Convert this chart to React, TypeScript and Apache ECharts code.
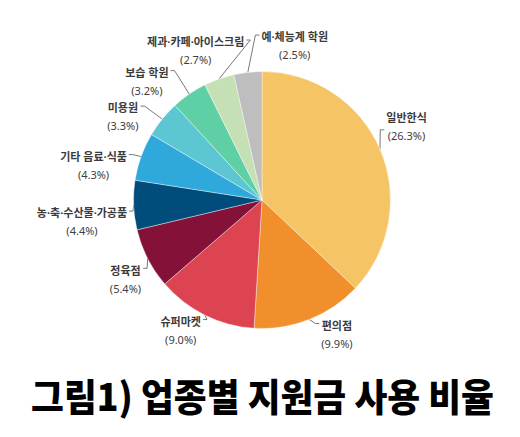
import React, { useEffect, useRef } from 'react';
import * as echarts from 'echarts';

// ---- data ----
const categories = [
  '일반한식',
  '편의점',
  '슈퍼마켓',
  '정육점',
  '농·축·수산물·가공품',
  '기타 음료·식품',
  '미용원',
  '보습 학원',
  '제과·카페·아이스크림',
  '예·체능계 학원',
];
const shares = [26.3, 9.9, 9.0, 5.4, 4.4, 4.3, 3.3, 3.2, 2.7, 2.5];
const titleText = '그림1) 업종별 지원금 사용 비율';

// ---- styles / layout ----
const colors = [
  '#F5C565',
  '#F28F2D',
  '#DC4452',
  '#841138',
  '#004C7A',
  '#2FA8DC',
  '#5CC6D2',
  '#5FCFA5',
  '#C5E0B5',
  '#BEBEBE',
];
const CX = 262;
const CY = 200;
const R = 128.5;
// small label nudges (px) relative to the computed outside position
const LABEL_NUDGE = [
  [-5, -13],
  [17, -16],
  [-10, -17],
  [5, 3],
  [4, 11],
  [-4, 21],
  [-15, 14],
  [-23, 12],
  [-10, 6],
  [50, -2],
];
// which text row the leader line meets: 0 = name row, 1 = percent row
const LINE_ROW = [1, 0, 0, 0, 0, 0, 0, 0, 0, 0];
const FONT = "'Noto Sans', 'Noto Sans CJK KR', sans-serif";
const TITLE_FONT = "'Noto Sans CJK KR', sans-serif";

export default function App() {
  const ref = useRef<HTMLDivElement>(null);

  useEffect(() => {
    document.body.style.margin = '0';
    if (!ref.current) return;
    const chart = echarts.init(ref.current, undefined, { renderer: 'svg' });

    const total = shares.reduce((a, b) => a + b, 0);
    const midAngles: number[] = [];
    let acc = 0;
    shares.forEach((v) => {
      midAngles.push(((acc + v / 2) / total) * Math.PI * 2);
      acc += v;
    });

    const option: any = {
      animation: false,
      backgroundColor: '#ffffff',
      color: colors,
      graphic: [
        {
          type: 'text',
          x: 262.5,
          y: 395,
          scaleX: 0.94,
          style: {
            text: titleText,
            x: 0,
            y: 0,
            align: 'center',
            verticalAlign: 'middle',
            fontSize: 38,
            fontWeight: 900,
            fill: '#000000',
            fontFamily: TITLE_FONT,
          },
        },
      ],
      series: [
        {
          type: 'pie',
          center: [CX, CY],
          radius: R,
          startAngle: 90,
          clockwise: true,
          avoidLabelOverlap: false,
          itemStyle: { borderColor: '#ffffff', borderWidth: 0.4 },
          data: categories.map((name, i) => ({ name, value: shares[i] })),
          label: {
            show: true,
            position: 'outer',
            alignTo: 'none',
            formatter: (p: any) => `{n|${p.name}}\n{p|(${Number(p.value).toFixed(1)}%)}`,
            rich: {
              n: {
                fontSize: 11,
                lineHeight: 18,
                color: '#3a3a3a',
                fontWeight: 'bold',
                fontFamily: FONT,
                align: 'center',
              },
              p: {
                fontSize: 11,
                lineHeight: 18,
                color: '#404040',
                fontFamily: FONT,
                align: 'center',
              },
            },
          },
          labelLine: {
            show: true,
            length: 10,
            length2: 4,
            lineStyle: { color: '#555555', width: 0.8 },
          },
          labelLayout: (params: any) => {
            const i = params.dataIndex;
            const w = params.labelRect.width;
            const h = params.labelRect.height;
            const pts = params.labelLinePoints;
            let p0x: number;
            let p0y: number;
            if (pts && pts.length) {
              p0x = pts[0][0];
              p0y = pts[0][1];
            } else {
              p0x = CX + R * Math.sin(midAngles[i]);
              p0y = CY - R * Math.cos(midAngles[i]);
            }
            let dx = p0x - CX;
            let dy = p0y - CY;
            const len = Math.hypot(dx, dy) || 1;
            dx /= len;
            dy /= len;
            const dist = R + 10 + (Math.abs(dx) * w) / 2 + (Math.abs(dy) * h) / 2;
            const nudge = LABEL_NUDGE[i] || [0, 0];
            const lcx = CX + dx * dist + nudge[0];
            const lcy = CY + dy * dist + nudge[1];
            const left = lcx - w / 2;
            const top = lcy - h / 2;
            const rowY = top + (LINE_ROW[i] ? (h * 3) / 4 : h / 4);
            const onRight = lcx > p0x;
            const ex = onRight ? left - 2 : left + w + 2;
            const bx = onRight ? ex - 4 : ex + 4;
            return {
              x: left,
              y: top,
              align: 'left',
              verticalAlign: 'top',
              labelLinePoints: [
                [p0x, p0y],
                [bx, rowY],
                [ex, rowY],
              ],
            };
          },
        },
      ],
    };

    chart.setOption(option);
    return () => {
      chart.dispose();
    };
  }, []);

  return <div ref={ref} style={{ width: 520, height: 437 }} />;
}
